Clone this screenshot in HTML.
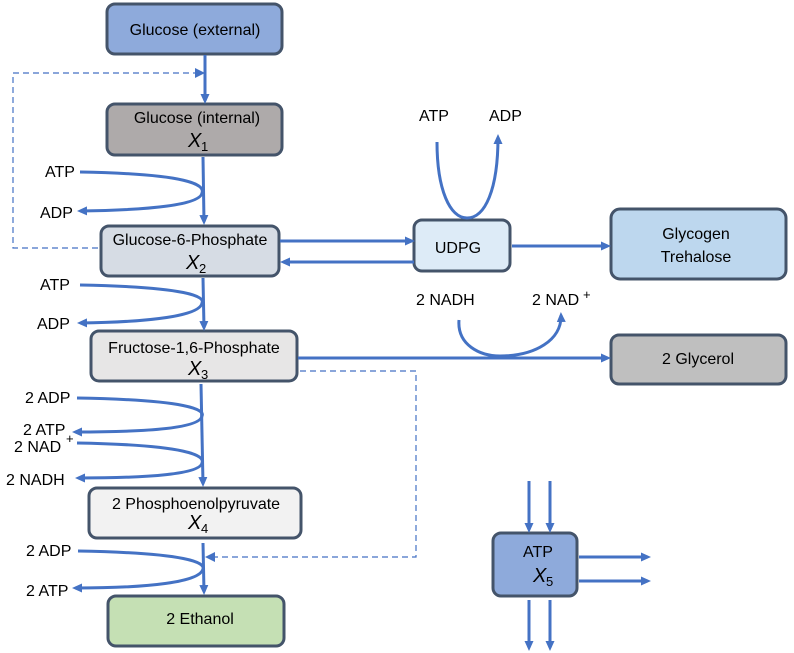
<!DOCTYPE html>
<html><head><meta charset="utf-8"><style>
html,body{margin:0;padding:0;background:#fff;}
svg{display:block;font-family:"Liberation Sans",sans-serif;}
text{font-size:16px;fill:#000;}
.b{stroke:#44546a;stroke-width:3;}
.l{stroke:#4472c4;stroke-width:3;fill:none;}
.d{stroke:#4472c4;stroke-width:1.2;fill:none;stroke-dasharray:6,4;}
.x{font-style:italic;font-size:20px;}
.s{font-size:13px;}
</style></head><body>
<svg width="794" height="653" viewBox="0 0 794 653">
<defs>
<marker id="a" markerWidth="10" markerHeight="10" refX="7" refY="5" orient="auto" markerUnits="userSpaceOnUse"><path d="M0,0.5 L10,5 L0,9.5 z" fill="#4472c4"/></marker>
<marker id="ad" markerWidth="10" markerHeight="10" refX="8" refY="5" orient="auto" markerUnits="userSpaceOnUse"><path d="M0,0 L10,5 L0,10 z" fill="#4472c4"/></marker>
</defs>
<rect class="b" x="107" y="4" width="175" height="50" rx="8" fill="#8eaadb"/>
<rect class="b" x="107" y="104" width="175" height="51" rx="8" fill="#aeaaaa"/>
<rect class="b" x="101" y="226" width="178" height="50" rx="8" fill="#d6dce4"/>
<rect class="b" x="91" y="331" width="206" height="50" rx="8" fill="#e7e6e6"/>
<rect class="b" x="89" y="488" width="212" height="50" rx="8" fill="#f2f2f2"/>
<rect class="b" x="108" y="596" width="176" height="50" rx="8" fill="#c5e0b4"/>
<rect class="b" x="414" y="220" width="96" height="51" rx="8" fill="#ddebf7"/>
<rect class="b" x="611" y="209" width="175" height="70" rx="9" fill="#bdd7ee"/>
<rect class="b" x="611" y="335" width="175" height="49" rx="8" fill="#bfbfbf"/>
<rect class="b" x="493" y="533" width="84" height="63" rx="8" fill="#8eaadb"/>
<line class="l" x1="205" y1="55" x2="205" y2="101" marker-end="url(#a)"/>
<line class="l" x1="203" y1="157" x2="204" y2="222" marker-end="url(#a)"/>
<line class="l" x1="203" y1="278" x2="204" y2="328" marker-end="url(#a)"/>
<line class="l" x1="201" y1="384" x2="203" y2="484" marker-end="url(#a)"/>
<line class="l" x1="203" y1="543" x2="204" y2="592" marker-end="url(#a)"/>
<path class="l" d="M80,172 C190,174 205,185 202,193 C200,205 150,210 80,211" marker-end="url(#a)"/>
<path class="l" d="M80,285 C190,287 205,297 202,303 C200,316 150,322 80,323" marker-end="url(#a)"/>
<path class="l" d="M77,398 C190,400 205,410 202,416 C200,428 150,432 75,432" marker-end="url(#a)"/>
<path class="l" d="M77,443 C190,445 205,456 202,463 C200,474 150,478 78,478" marker-end="url(#a)"/>
<path class="l" d="M78,551 C190,553 205,563 203,569 C200,582 150,588 75,588" marker-end="url(#a)"/>
<path class="d" d="M98,248 L13,248 L13,73 L203,73" marker-end="url(#ad)"/>
<path class="d" d="M300,371 L416,371 L416,557 L207,557" marker-end="url(#ad)"/>
<line class="l" x1="280" y1="241" x2="412" y2="241" marker-end="url(#a)"/>
<line class="l" x1="414" y1="262" x2="283" y2="262" marker-end="url(#a)"/>
<line class="l" x1="512" y1="246" x2="608" y2="246" marker-end="url(#a)"/>
<path class="l" d="M437,142 C437,190 450,218 467,218 C485,218 498,190 498,137" marker-end="url(#a)"/>
<line class="l" x1="298" y1="358" x2="608" y2="358" marker-end="url(#a)"/>
<path class="l" d="M459,320 C457,345 480,356 500,356 C535,356 562,340 561,315" marker-end="url(#a)"/>
<line class="l" x1="529" y1="481" x2="529" y2="530" marker-end="url(#a)"/>
<line class="l" x1="550" y1="481" x2="550" y2="530" marker-end="url(#a)"/>
<line class="l" x1="529" y1="600" x2="529" y2="648" marker-end="url(#a)"/>
<line class="l" x1="550" y1="600" x2="550" y2="648" marker-end="url(#a)"/>
<line class="l" x1="579" y1="557" x2="648" y2="557" marker-end="url(#a)"/>
<line class="l" x1="579" y1="581" x2="648" y2="581" marker-end="url(#a)"/>
<text x="195" y="35" text-anchor="middle">Glucose (external)</text>
<text x="197" y="123" text-anchor="middle">Glucose (internal)</text>
<text x="188" y="147" class="x">X</text><text x="201" y="151" class="s">1</text>
<text x="190" y="245" text-anchor="middle">Glucose-6-Phosphate</text>
<text x="186" y="269" class="x">X</text><text x="199" y="273" class="s">2</text>
<text x="194" y="353" text-anchor="middle">Fructose-1,6-Phosphate</text>
<text x="188" y="375" class="x">X</text><text x="201" y="379" class="s">3</text>
<text x="196" y="509" text-anchor="middle">2 Phosphoenolpyruvate</text>
<text x="188" y="529" class="x">X</text><text x="201" y="533" class="s">4</text>
<text x="200" y="624" text-anchor="middle">2 Ethanol</text>
<text x="458" y="253" text-anchor="middle">UDPG</text>
<text x="696" y="239" text-anchor="middle">Glycogen</text>
<text x="696" y="262" text-anchor="middle">Trehalose</text>
<text x="698" y="364" text-anchor="middle">2 Glycerol</text>
<text x="538" y="557" text-anchor="middle">ATP</text>
<text x="533" y="582" class="x">X</text><text x="546" y="586" class="s">5</text>
<text x="45" y="177">ATP</text>
<text x="40" y="218">ADP</text>
<text x="40" y="290">ATP</text>
<text x="37" y="329">ADP</text>
<text x="25" y="403">2 ADP</text>
<text x="23" y="435">2 ATP</text>
<text x="14" y="452">2 NAD</text><text x="66" y="443" class="s">+</text>
<text x="6" y="485">2 NADH</text>
<text x="26" y="556">2 ADP</text>
<text x="26" y="596">2 ATP</text>
<text x="419" y="121">ATP</text>
<text x="489" y="121">ADP</text>
<text x="416" y="305">2 NADH</text>
<text x="532" y="305">2 NAD</text><text x="583" y="299" class="s">+</text>
</svg>
</body></html>
